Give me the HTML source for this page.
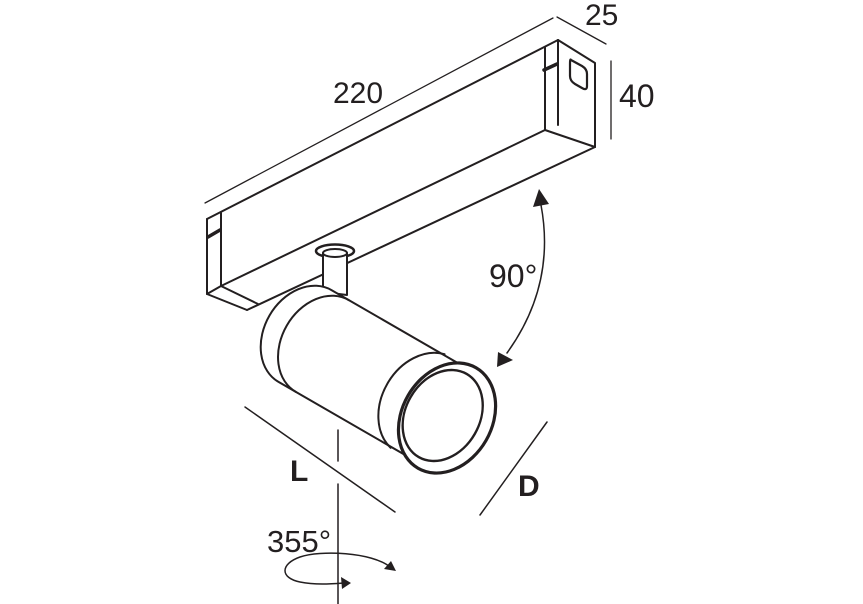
<!DOCTYPE html>
<html><head><meta charset="utf-8"><style>
html,body{margin:0;padding:0;background:#fff;}
svg{display:block;}
text{font-family:"Liberation Sans",sans-serif;fill:#231f20;}
</style></head><body>
<svg width="863" height="604" viewBox="0 0 863 604" xmlns="http://www.w3.org/2000/svg">
<g fill="none" stroke="#231f20" stroke-linejoin="round" stroke-linecap="round">
  <!-- dimension lines -->
  <line x1="205" y1="203" x2="553" y2="18" stroke-width="1.3"/>
  <line x1="557" y1="17" x2="606" y2="44" stroke-width="1.3"/>
  <line x1="611" y1="61" x2="611" y2="139" stroke-width="1.3"/>
  <!-- track -->
  <g stroke-width="2">
    <line x1="207" y1="219" x2="558" y2="40"/>
    <line x1="207" y1="219" x2="207" y2="294"/>
    <line x1="221" y1="213" x2="221" y2="286"/>
    <line x1="545" y1="47" x2="545" y2="130"/>
    <line x1="558" y1="40" x2="558" y2="125"/>
    <polyline points="558,40 595,63 595,147"/>
    <line x1="207" y1="294" x2="221" y2="286"/>
    <line x1="221" y1="286" x2="545" y2="130"/>
    <line x1="545" y1="130" x2="595" y2="147"/>
    <line x1="207" y1="294" x2="247" y2="310"/>
    <line x1="221" y1="286" x2="258" y2="304"/>
    <line x1="247" y1="310" x2="595" y2="147"/>
    <path d="M571,60 L582,66 Q587,69 587,74 L587,86 Q587,91 582,88 L575,84 Q570,81 570,76 L570,64 Q570,58 571,60 Z" stroke-width="2.2"/>
  </g>
  <line x1="208" y1="237" x2="220" y2="230" stroke-width="3.5"/>
  <line x1="544" y1="70" x2="557" y2="64" stroke-width="3.5"/>
  <!-- stem -->
  <ellipse cx="335" cy="251" rx="19" ry="6.5" fill="#fff" stroke-width="2.5"/>
  <path d="M323,253 L323,292 L347,295 L347,253" fill="#fff" stroke-width="2"/>
  <ellipse cx="335" cy="253" rx="12" ry="4" fill="#fff" stroke-width="2"/>
  <!-- lamp body -->
  <g transform="translate(305,336) rotate(30)" stroke-width="2">
    <path d="M0,-53 L164,-53 L164,53 L0,53 A41,53 0 0 1 0,-53 Z" fill="#fff"/>
    <path d="M20,-53 A41,53 0 0 0 20,53"/>
    <path d="M130,-54 A43,55 0 0 0 130,54"/>
    <ellipse cx="164" cy="0" rx="45" ry="58" fill="#fff" stroke-width="3.2"/>
    <ellipse cx="159" cy="0" rx="37" ry="48" stroke-width="2.4"/>
  </g>
  <!-- 90 arrow -->
  <path d="M541,205 Q556,285 507,353" stroke-width="1.5"/>
  <!-- L and D lines -->
  <line x1="245" y1="407" x2="395" y2="512" stroke-width="1.5"/>
  <line x1="547" y1="422" x2="480" y2="515" stroke-width="1.5"/>
  <!-- axis -->
  <line x1="338" y1="430" x2="338" y2="461" stroke-width="1.5"/>
  <line x1="338" y1="484" x2="338" y2="604" stroke-width="1.5"/>
  <!-- rotation arrow -->
  <path d="M390,567 C372,552 320,550 300,557 C280,564 280,578 300,582 C315,585 330,584 344,583" stroke-width="1.5"/>
</g>
<g fill="#231f20">
  <polygon points="539,189 533,207 549,204"/>
  <polygon points="497,367 498,352 513,360"/>
  <polygon points="396,571 384,569 391,561"/>
  <polygon points="351,583 341,577 342,589"/>
</g>
<text x="333" y="103" font-size="30">220</text>
<text x="585" y="25" font-size="30">25</text>
<text x="619" y="107" font-size="32">40</text>
<text x="489" y="287" font-size="32">90°</text>
<text x="290" y="481" font-size="30" font-weight="bold">L</text>
<text x="518" y="496" font-size="30" font-weight="bold">D</text>
<text x="267" y="552" font-size="31">355°</text>
</svg>
</body></html>
